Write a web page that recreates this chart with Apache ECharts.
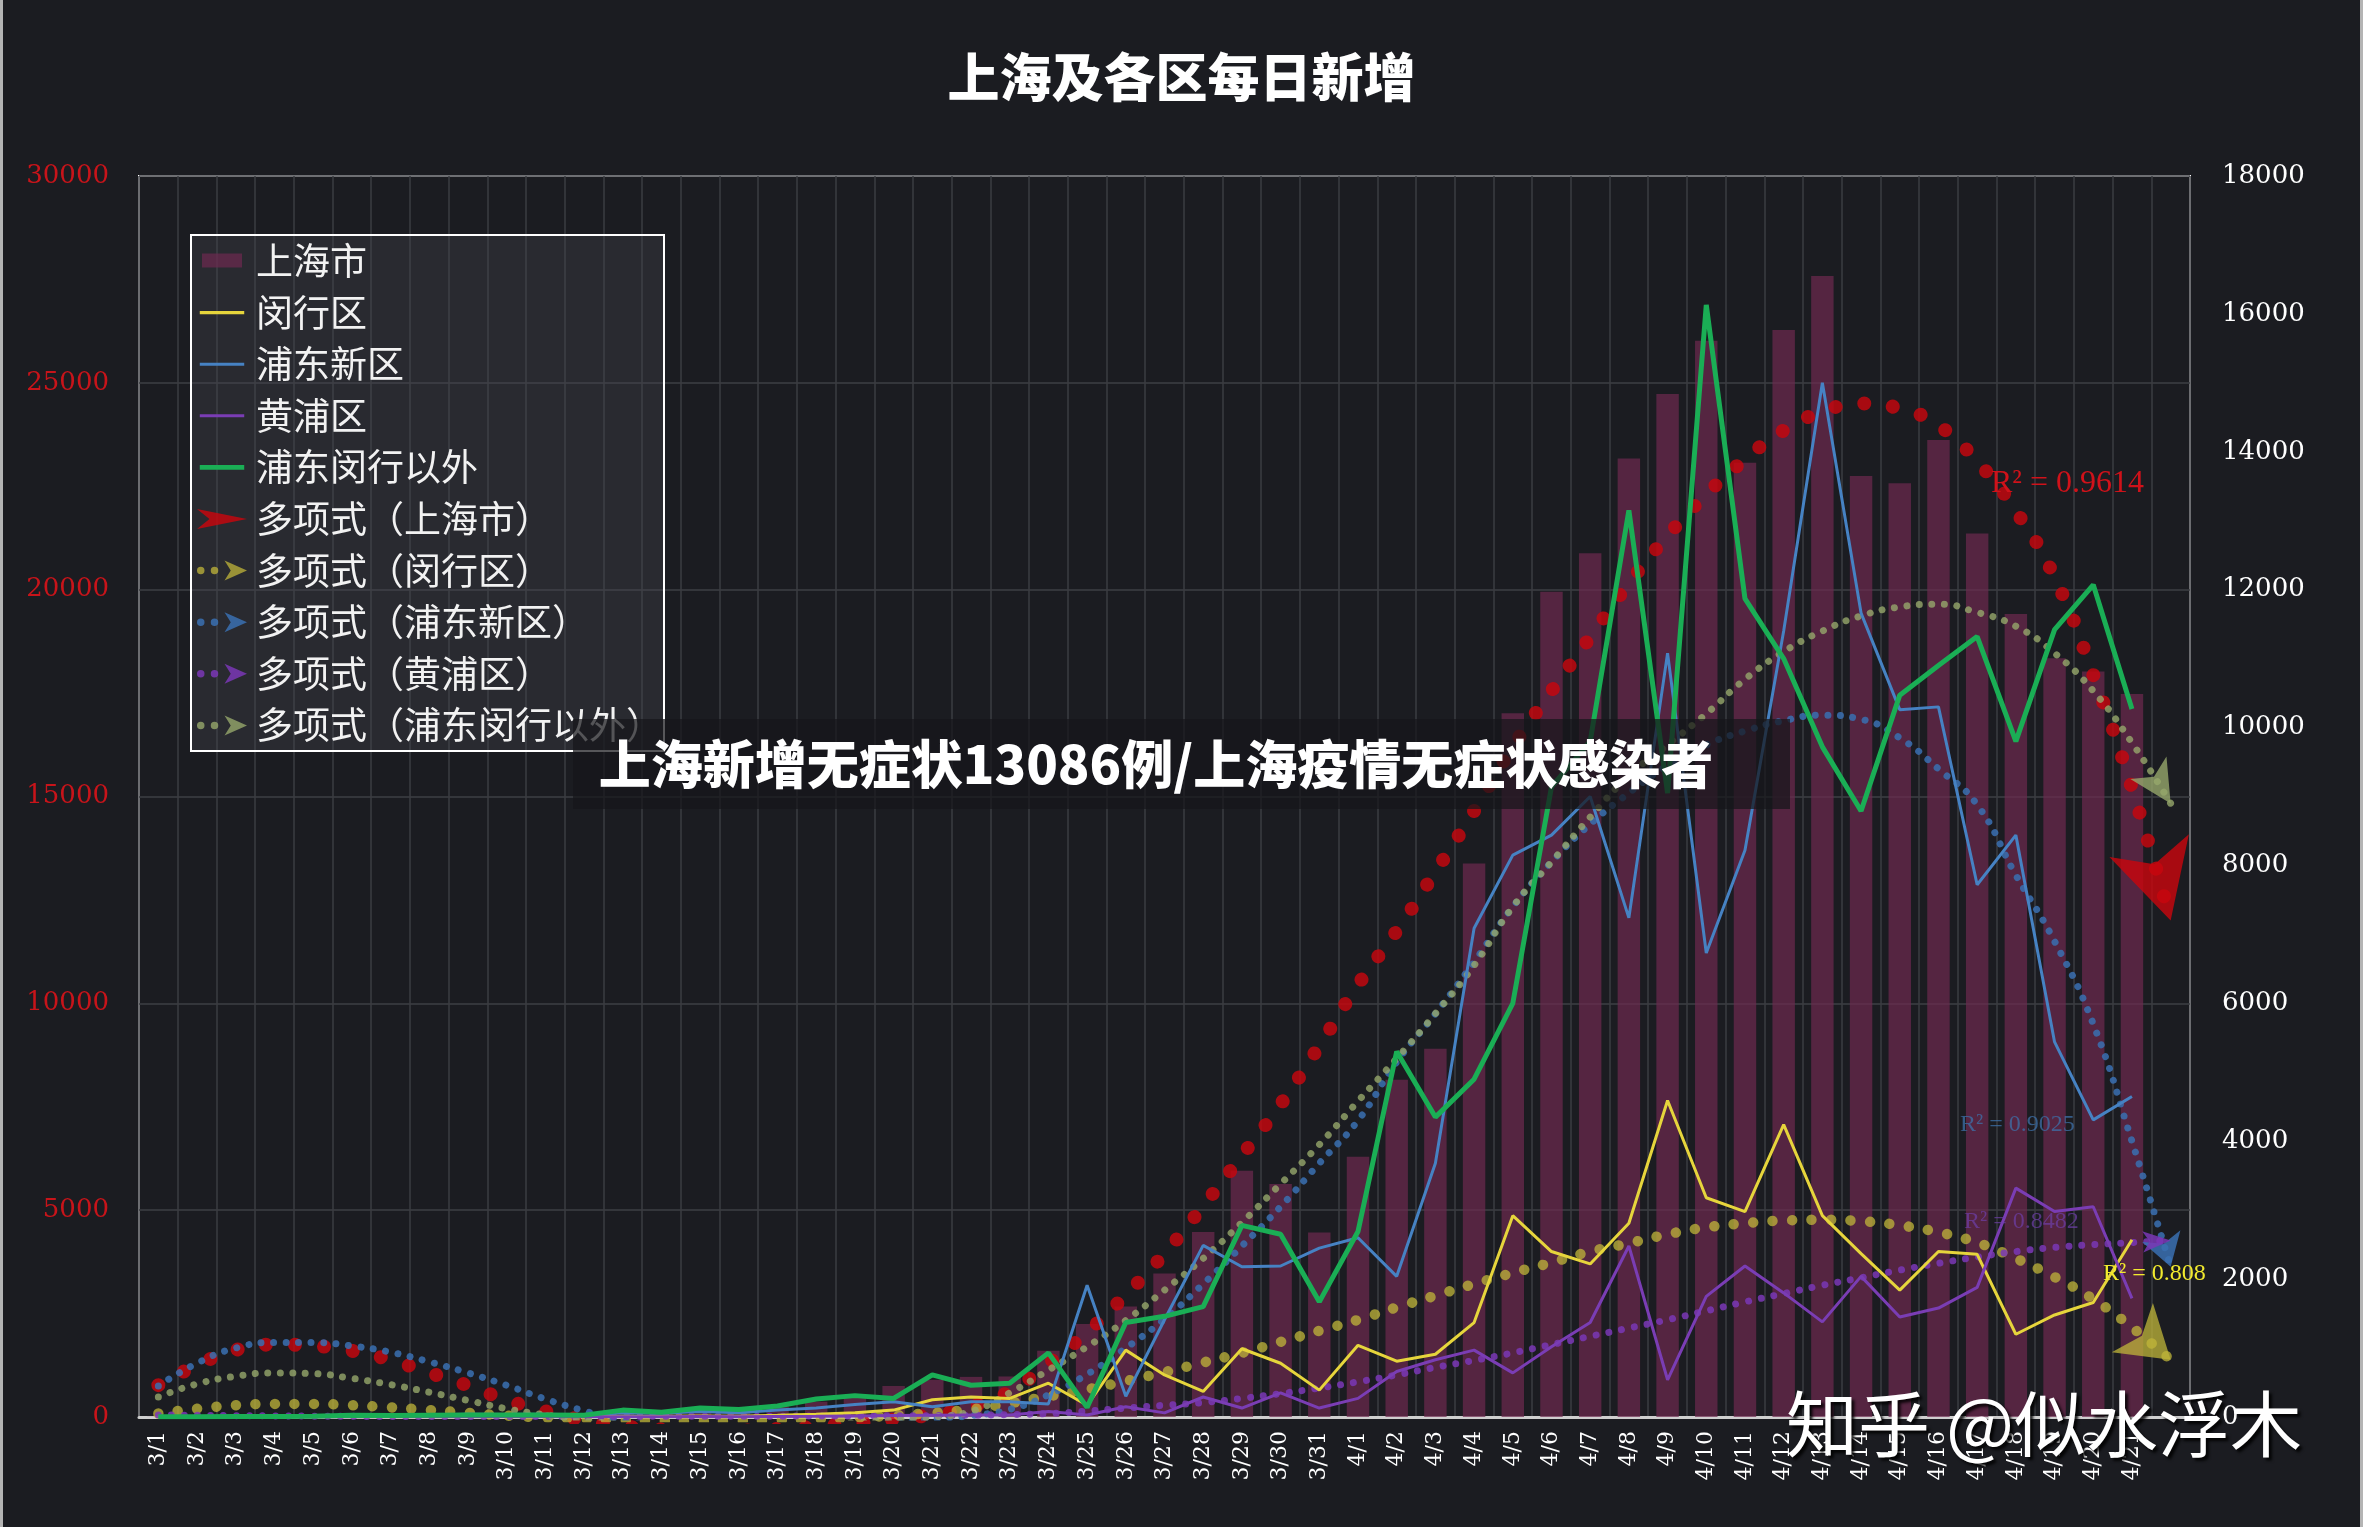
<!DOCTYPE html>
<html>
<head>
<meta charset="utf-8">
<title>上海及各区每日新增</title>
<script src="https://cdn.jsdelivr.net/npm/echarts@6/dist/echarts.min.js"></script>
<style>
  html, body { margin: 0; padding: 0; background: #1b1c21; }
  #chart { width: 2363px; height: 1527px; }
</style>
</head>
<body>
<div id="chart"></div>
<script>
// 日期，最后一格留给趋势线外推
const days = ['3/1', '3/2', '3/3', '3/4', '3/5', '3/6', '3/7', '3/8', '3/9', '3/10', '3/11', '3/12', '3/13', '3/14', '3/15', '3/16', '3/17', '3/18', '3/19', '3/20', '3/21', '3/22', '3/23', '3/24', '3/25', '3/26', '3/27', '3/28', '3/29', '3/30', '3/31',
  '4/1', '4/2', '4/3', '4/4', '4/5', '4/6', '4/7', '4/8', '4/9', '4/10', '4/11', '4/12', '4/13', '4/14', '4/15', '4/16', '4/17', '4/18', '4/19', '4/20', '4/21', '']

// 上海市每日新增（左轴）
const shTotal = [3, 8, 16, 19, 28, 48, 51, 65, 80, 75, 83, 65, 169, 139, 202, 158, 260,
  370, 510, 750, 900, 970, 980, 1600, 2250, 2670, 3470, 4470, 5950, 5630, 4460,
  6290, 8150, 8900, 13380, 17010, 19950, 20880, 23170, 24730, 26020, 23070, 26280, 27580, 22750, 22570, 23620, 21360, 19410, 18340, 18020, 17480]

// 各区（右轴）
const minhang = [0, 1, 1, 2, 2, 3, 3, 5, 6, 5, 8, 6, 12, 10, 15, 12, 25,
  40, 60, 100, 250, 290, 270, 490, 170, 970, 610, 370, 990, 780, 390,
  1040, 810, 910, 1370, 2920, 2400, 2220, 2810, 4590, 3180, 2980, 4240, 2920, 2370, 1840, 2400, 2360, 1200, 1480, 1660, 2570]
const pudong = [1, 3, 8, 10, 15, 20, 28, 30, 40, 35, 40, 30, 60, 55, 80, 60, 100,
  130, 180, 220, 150, 220, 220, 190, 1910, 300, 1410, 2490, 2180, 2190, 2450,
  2600, 2040, 3680, 7090, 8150, 8440, 9000, 7240, 11080, 6730, 8220, 11400, 15000, 11660, 10260, 10300, 7720, 8440, 5440, 4310, 4650]
const huangpu = [0, 0, 0, 0, 1, 1, 2, 2, 3, 2, 3, 2, 5, 4, 6, 5, 8,
  10, 15, 20, 25, 30, 30, 80, 30, 150, 60, 290, 130, 350, 130,
  270, 660, 830, 970, 640, 1020, 1370, 2480, 540, 1750, 2190, 1800, 1380, 2040, 1450, 1580, 1880, 3320, 2980, 3050, 1720]
const others = [2, 4, 7, 7, 11, 25, 20, 26, 30, 30, 30, 24, 100, 70, 130, 110, 160,
  260, 310, 270, 610, 460, 490, 930, 140, 1370, 1460, 1600, 2780, 2650, 1670,
  2690, 5300, 4350, 4900, 6000, 9140, 9800, 13150, 9050, 16130, 11870, 11000, 9720, 8790, 10470, 10900, 11320, 9800, 11420, 12070, 10270]

// 多项式趋势线（从图上逐日读出）
const shTrend = [770, 1250, 1620, 1750, 1720, 1600, 1380, 1070, 760, 410, 140, -80, -220, -300, -340, -330, -290, -230, -150, -60, 60, 250, 620, 1300, 2050, 2950, 3950, 5100, 6320, 7560, 8970,
  10450, 11750, 13180, 14650, 16200, 17550, 18850, 20150, 21300, 22300, 23150, 23850, 24300, 24500, 24380, 23970, 23100, 21900, 20300, 17940, 15200, 12000]
const mhTrend = [50, 120, 170, 190, 190, 170, 140, 100, 60, 20, -10, -30, -45, -55, -60, -55, -45, -30, -10, 20, 60, 110, 200, 300, 400, 520, 650, 790, 930, 1090, 1250,
  1410, 1590, 1760, 1930, 2090, 2240, 2400, 2520, 2650, 2750, 2810, 2850, 2860, 2840, 2780, 2680, 2530, 2300, 2030, 1710, 1300, 830]
const pdTrend = [450, 780, 1000, 1080, 1080, 1030, 940, 800, 640, 460, 260, 90, -50, -150, -200, -220, -210, -180, -140, -90, -30, 20, 110, 320, 620, 1000, 1420, 1930, 2480, 3050, 3680,
  4300, 5150, 5850, 6600, 7400, 8050, 8600, 9050, 9450, 9750, 9950, 10100, 10180, 10120, 9850, 9400, 8880, 7860, 6900, 5700, 4000, 2180]
const hpTrend = [30, 25, 20, 15, 12, 10, 8, 8, 8, 8, 8, 8, 8, 10, 10, 12, 12, 15, 15, 18, 20, 25, 35, 50, 85, 130, 170, 210, 270, 340, 420,
  510, 610, 720, 820, 930, 1050, 1170, 1290, 1410, 1540, 1670, 1790, 1910, 2020, 2130, 2230, 2320, 2400, 2460, 2500, 2530, 2560]
const otTrend = [290, 480, 590, 640, 630, 560, 470, 360, 240, 120, 30, -50, -110, -150, -170, -170, -150, -120, -80, -40, 0, 80, 350, 680, 1020, 1400, 1840, 2300, 2820, 3380, 3950,
  4580, 5200, 5850, 6550, 7400, 8050, 8700, 9300, 9750, 10200, 10700, 11100, 11400, 11620, 11750, 11790, 11670, 11470, 11080, 10530, 9780, 8900]

const serifFont = 'DejaVu Serif'
const cjkFont = 'Noto Sans CJK SC'

// 趋势线末端箭头
const withArrow = (arr, size, rotate) => arr.map((v, i) => i === arr.length - 1
  ? { value: v, symbol: 'arrow', symbolSize: size, symbolRotate: rotate }
  : v)

const trendSeries = (name, data, axis, color, width, gap, arrowSize, arrowRotate) => ({
  name,
  type: 'line',
  yAxisIndex: axis,
  smooth: true,
  symbol: 'none',
  showSymbol: true,
  showAllSymbol: true,
  silent: true,
  z: 3,
  itemStyle: { color },
  lineStyle: { color, width, type: [0.01, gap], cap: 'round' },
  data: withArrow(data, arrowSize, arrowRotate)
})

const lineSeries = (name, data, color, width, z) => ({
  name,
  type: 'line',
  yAxisIndex: 1,
  symbol: 'none',
  silent: true,
  z,
  itemStyle: { color },
  lineStyle: { color, width },
  data
})

// 图例图标：细线、粗线、趋势线（两点加箭头）、上海市趋势线（大箭头）
const thinLineIcon = 'path://M0,0M0,7.6h40v2.8h-40zM40,18'
const thickLineIcon = 'path://M0,0M0,6.8h40v4.4h-40zM40,18'
const trendIcon = 'path://M0,8a3,3 0 1,0 6,0a3,3 0 1,0 -6,0M11,8a3,3 0 1,0 6,0a3,3 0 1,0 -6,0M22,0L40,8L22,16L27,8Z'
const bigArrowIcon = 'path://M0,0L40,8L0,16L10,8Z'

const chart = echarts.init(document.getElementById('chart'))

const option = {
  backgroundColor: '#1b1c21',
  animation: false,
  title: {
    text: '上海及各区每日新增',
    left: 'center',
    top: 46,
    textStyle: { color: '#ffffff', fontSize: 52, fontWeight: 900, fontFamily: cjkFont }
  },
  legend: {
    orient: 'vertical',
    left: 197,
    top: 241,
    padding: 0,
    itemWidth: 58,
    itemHeight: 20,
    itemGap: 11.6,
    itemTextGap: 9,
    selectedMode: false,
    textStyle: { color: '#f2f2f2', fontSize: 37, lineHeight: 40, fontFamily: cjkFont },
    data: [
      { name: '上海市', icon: 'path://M0,0M0,2.5h40v14h-40zM40,20' },
      { name: '闵行区', icon: thinLineIcon },
      { name: '浦东新区', icon: thinLineIcon },
      { name: '黄浦区', icon: thinLineIcon },
      { name: '浦东闵行以外', icon: thickLineIcon },
      { name: '多项式（上海市）', icon: bigArrowIcon },
      { name: '多项式（闵行区）', icon: trendIcon },
      { name: '多项式（浦东新区）', icon: trendIcon },
      { name: '多项式（黄浦区）', icon: trendIcon },
      { name: '多项式（浦东闵行以外）', icon: trendIcon }
    ]
  },
  grid: {
    left: 139,
    right: 173,
    top: 176,
    bottom: 110,
    show: true,
    borderColor: '#ffffff',
    borderWidth: 2
  },
  xAxis: {
    type: 'category',
    data: days,
    boundaryGap: true,
    axisTick: { show: false },
    axisLine: { lineStyle: { color: '#cfcfcf', width: 3 } },
    axisLabel: { interval: 0, rotate: 90, color: '#ffffff', fontSize: 22, fontFamily: serifFont, margin: 14 },
    splitLine: { show: true, interval: 0, lineStyle: { color: '#3b3c42', width: 1.5 } }
  },
  yAxis: [
    {
      type: 'value',
      min: 0,
      max: 30000,
      interval: 5000,
      axisLine: { show: false },
      axisTick: { show: false },
      axisLabel: { color: '#c8141a', fontSize: 26, fontFamily: serifFont, margin: 30, formatter: (v) => String(v) },
      splitLine: { lineStyle: { color: '#3e3f45', width: 1.5 } }
    },
    {
      type: 'value',
      min: 0,
      max: 18000,
      interval: 2000,
      axisLine: { show: false },
      axisTick: { show: false },
      axisLabel: { color: '#ffffff', fontSize: 26, fontFamily: serifFont, margin: 32, formatter: (v) => String(v) },
      splitLine: { show: false }
    }
  ],
  series: [
    {
      name: '上海市',
      type: 'bar',
      yAxisIndex: 0,
      barWidth: '58%',
      silent: true,
      z: 1,
      itemStyle: { color: 'rgba(110,42,80,0.7)' },
      data: shTotal
    },
    trendSeries('多项式（上海市）', shTrend, 0, 'rgba(200,6,14,0.82)', 14, 29, [62, 78], -164),
    trendSeries('多项式（闵行区）', mhTrend, 1, 'rgba(192,182,58,0.75)', 10.5, 19.5, [48, 50], -130),
    trendSeries('多项式（浦东新区）', pdTrend, 1, 'rgba(58,112,178,0.85)', 7, 12.5, [30, 32], -163),
    trendSeries('多项式（黄浦区）', hpTrend, 1, 'rgba(122,55,182,0.85)', 7, 13, [16, 28], -87),
    trendSeries('多项式（浦东闵行以外）', otTrend, 1, 'rgba(150,168,108,0.8)', 7, 12.5, [32, 42], -148),
    lineSeries('闵行区', minhang, '#e6d53c', 3, 4),
    lineSeries('浦东新区', pudong, '#4682c3', 3, 4),
    lineSeries('黄浦区', huangpu, '#7a3db4', 3, 4),
    lineSeries('浦东闵行以外', others, '#1aae55', 5, 5)
  ],
  graphic: [
    // 图例外框
    {
      type: 'rect', z: 1, silent: true,
      shape: { x: 191, y: 235, width: 473, height: 516 },
      style: { fill: 'rgba(72,72,80,0.32)', stroke: '#ffffff', lineWidth: 2 }
    },
    // R² 标注
    {
      type: 'text', z: 10, x: 1991, y: 484, silent: true,
      style: { text: 'R² = 0.9614', fill: '#d0121a', font: '32px "Liberation Serif"', verticalAlign: 'middle', textVerticalAlign: 'middle' }
    },
    {
      type: 'text', z: 10, x: 1960, y: 1125, silent: true,
      style: { text: 'R² = 0.9025', fill: 'rgba(62,112,170,0.75)', font: '24px "Liberation Serif"', verticalAlign: 'middle', textVerticalAlign: 'middle' }
    },
    {
      type: 'text', z: 10, x: 1964, y: 1222, silent: true,
      style: { text: 'R² = 0.8482', fill: 'rgba(110,62,170,0.7)', font: '24px "Liberation Serif"', verticalAlign: 'middle', textVerticalAlign: 'middle' }
    },
    {
      type: 'text', z: 10, x: 2103, y: 1274, silent: true,
      style: { text: 'R² = 0.808', fill: '#f2ea2e', font: '24px "Liberation Serif"', verticalAlign: 'middle', textVerticalAlign: 'middle' }
    },
    // 中间的标题横幅
    {
      type: 'rect', z: 100, silent: true,
      shape: { x: 573, y: 719, width: 1217, height: 90 },
      style: { fill: 'rgba(22,22,26,0.72)' }
    },
    {
      type: 'text', z: 101, x: 1156, y: 764, silent: true,
      style: {
        text: '上海新增无症状13086例/上海疫情无症状感染者',
        fill: '#ffffff',
        font: '900 52px "Noto Sans CJK SC"',
        align: 'center', textAlign: 'center',
        verticalAlign: 'middle', textVerticalAlign: 'middle'
      }
    },
    // 水印
    {
      type: 'text', z: 101, x: 2044, y: 1424, silent: true,
      style: {
        text: '知乎 @似水浮木',
        fill: '#ffffff',
        font: '72px "Noto Sans CJK SC"',
        align: 'center', textAlign: 'center',
        verticalAlign: 'middle', textVerticalAlign: 'middle',
        textShadowColor: 'rgba(0,0,0,0.85)', textShadowBlur: 3, textShadowOffsetX: 3, textShadowOffsetY: 3,
        shadowColor: 'rgba(0,0,0,0.85)', shadowBlur: 3, shadowOffsetX: 3, shadowOffsetY: 3
      }
    },
    // 外框两侧的浅色边
    { type: 'rect', z: 100, silent: true, shape: { x: 0, y: 0, width: 3, height: 1527 }, style: { fill: '#b4b4b4' } },
    { type: 'rect', z: 100, silent: true, shape: { x: 2360, y: 0, width: 3, height: 1527 }, style: { fill: '#b4b4b4' } }
  ]
}

chart.setOption(option)
</script>
</body>
</html>
